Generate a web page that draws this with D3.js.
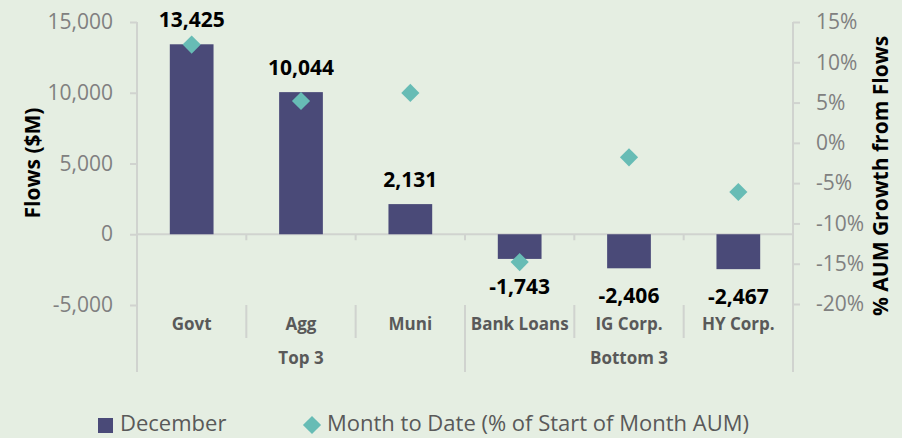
<!DOCTYPE html>
<html>
<head>
<meta charset="utf-8">
<script src="https://cdn.jsdelivr.net/npm/d3@7"></script>
<style>
  body { margin: 0; background: #e5eee2; }
  svg { display: block; font-family: "Open Sans", sans-serif; }
</style>
</head>
<body>
<script>
'use strict';

// chart data
const categories = ["Govt", "Agg", "Muni", "Bank Loans", "IG Corp.", "HY Corp."];
const groups = ["Top 3", "Top 3", "Top 3", "Bottom 3", "Bottom 3", "Bottom 3"];
const flows = [13425, 10044, 2131, -1743, -2406, -2467];           // December ($M)
const growth = [12.2, 5.2, 6.2, -14.8, -1.8, -6.1];                // month to date (%)
const leftTicks = [-5000, 0, 5000, 10000, 15000];
const rightTicks = [-20, -15, -10, -5, 0, 5, 10, 15];

const barColor = "#4a4a78";
const dotColor = "#67bcb5";
const axisColor = "#d0d3cf";

const width = 902, height = 438;
const svg = d3.select("body").append("svg")
  .attr("width", width)
  .attr("height", height);

svg.append("rect").attr("width", width).attr("height", height).attr("fill", "#e5eee2");

// scales
const x = d3.scaleBand().domain(categories).range([137, 793]).padding(0);
const y = d3.scaleLinear().domain([-5000, 15000]).range([305, 22]);
const y2 = d3.scaleLinear().domain([-20, 15]).range([304, 22]);

const fmt = v => d3.format(",")(v).replace("\u2212", "-");

// left axis
const leftAxis = svg.append("g")
  .attr("transform", "translate(137,0)")
  .call(d3.axisLeft(y).tickValues(leftTicks).tickSize(7).tickPadding(17).tickFormat(fmt));
leftAxis.select(".domain").remove();
leftAxis.selectAll("line").attr("stroke", axisColor).attr("stroke-width", 2);
leftAxis.selectAll("text").attr("fill", "#808080").attr("font-size", 21)
  .attr("font-family", "Open Sans, sans-serif");
svg.append("line")
  .attr("x1", 137).attr("x2", 137).attr("y1", y(15000)).attr("y2", 372)
  .attr("stroke", axisColor).attr("stroke-width", 2);

// right axis
const rightAxis = svg.append("g")
  .attr("transform", "translate(793,0)")
  .call(d3.axisRight(y2).tickValues(rightTicks).tickSize(7).tickPadding(16).tickFormat(d => d + "%"));
rightAxis.select(".domain").remove();
rightAxis.selectAll("line").attr("stroke", axisColor).attr("stroke-width", 2);
rightAxis.selectAll("text").attr("fill", "#808080").attr("font-size", 21)
  .attr("font-family", "Open Sans, sans-serif");
svg.append("line")
  .attr("x1", 793).attr("x2", 793).attr("y1", y2(15)).attr("y2", 372)
  .attr("stroke", axisColor).attr("stroke-width", 2);

// zero line and category ticks
svg.append("line")
  .attr("x1", 137).attr("x2", 793).attr("y1", y(0)).attr("y2", y(0))
  .attr("stroke", axisColor).attr("stroke-width", 2);
categories.slice(1).forEach(c => {
  const bx = x(c);
  svg.append("line").attr("x1", bx).attr("x2", bx)
    .attr("y1", y(0)).attr("y2", y(0) + 6)
    .attr("stroke", axisColor).attr("stroke-width", 2);
  const groupEdge = groups[categories.indexOf(c)] !== groups[categories.indexOf(c) - 1];
  svg.append("line").attr("x1", bx).attr("x2", bx)
    .attr("y1", 305).attr("y2", groupEdge ? 372 : 338)
    .attr("stroke", axisColor).attr("stroke-width", 2);
});

// bars
const barW = x.bandwidth() * 0.4;
svg.selectAll(".bar")
  .data(flows)
  .enter()
  .append("rect")
    .attr("x", (d, i) => x(categories[i]) + (x.bandwidth() - barW) / 2)
    .attr("y", d => y(Math.max(0, d)))
    .attr("width", barW)
    .attr("height", d => Math.abs(y(d) - y(0)))
    .attr("fill", barColor);

// bar labels
svg.selectAll(".blabel")
  .data(flows)
  .enter()
  .append("text")
    .attr("x", (d, i) => x(categories[i]) + x.bandwidth() / 2)
    .attr("y", d => d >= 0 ? y(d) - 17 : y(d) + 35)
    .attr("text-anchor", "middle")
    .attr("font-size", 21)
    .attr("font-weight", "bold")
    .attr("fill", "#000")
    .text(fmt);

// diamonds
const diamond = d3.symbol().type(d3.symbolSquare).size(165);
svg.selectAll(".dot")
  .data(growth)
  .enter()
  .append("path")
    .attr("d", diamond)
    .attr("transform", (d, i) =>
      `translate(${x(categories[i]) + x.bandwidth() / 2},${y2(d)}) rotate(45)`)
    .attr("fill", dotColor);

// category labels
svg.selectAll(".clabel")
  .data(categories)
  .enter()
  .append("text")
    .attr("x", d => x(d) + x.bandwidth() / 2)
    .attr("y", 330)
    .attr("text-anchor", "middle")
    .attr("font-size", 17)
    .attr("font-weight", "bold")
    .attr("fill", "#595959")
    .text(d => d);

// group labels
const groupNames = Array.from(new Set(groups));
groupNames.forEach(g => {
  const members = categories.filter((c, i) => groups[i] === g);
  const x0 = x(members[0]);
  const x1 = x(members[members.length - 1]) + x.bandwidth();
  svg.append("text")
    .attr("x", (x0 + x1) / 2)
    .attr("y", 364)
    .attr("text-anchor", "middle")
    .attr("font-size", 17)
    .attr("font-weight", "bold")
    .attr("fill", "#595959")
    .text(g);
});

// axis titles
svg.append("text")
  .attr("transform", "translate(40,163) rotate(-90)")
  .attr("text-anchor", "middle")
  .attr("font-size", 21)
  .attr("font-weight", "bold")
  .attr("fill", "#000")
  .text("Flows ($M)");

svg.append("text")
  .attr("transform", "translate(888,176) rotate(-90)")
  .attr("text-anchor", "middle")
  .attr("font-size", 21)
  .attr("font-weight", "bold")
  .attr("fill", "#000")
  .text("% AUM Growth from Flows");

// legend
svg.append("rect")
  .attr("x", 98).attr("y", 418).attr("width", 15).attr("height", 15)
  .attr("fill", barColor);
svg.append("text")
  .attr("x", 120).attr("y", 431)
  .attr("font-size", 22)
  .attr("fill", "#595959")
  .text("December");
svg.append("path")
  .attr("d", diamond)
  .attr("transform", "translate(312,425) rotate(45)")
  .attr("fill", dotColor);
svg.append("text")
  .attr("x", 327).attr("y", 431)
  .attr("font-size", 22)
  .attr("fill", "#595959")
  .text("Month to Date (% of Start of Month AUM)");
</script>
</body>
</html>
